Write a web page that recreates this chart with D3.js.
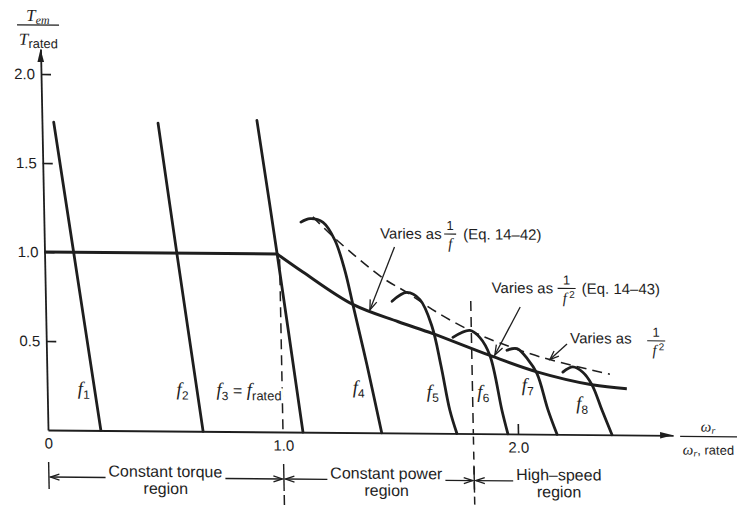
<!DOCTYPE html>
<html><head><meta charset="utf-8">
<script src="https://cdn.jsdelivr.net/npm/d3@7"></script>
<style>
html,body{margin:0;padding:0;background:#fff;}
svg{display:block;}
text{font-family:"Liberation Sans",Arial,sans-serif;fill:#1e1e1e;}
.it{font-family:"Liberation Serif","Times New Roman",serif;font-style:italic;}
</style></head><body>
<svg id="chart" width="737" height="511"></svg>
<script>
// ---------- data (speed / rated speed, torque / rated torque) ----------
const yTicks = [0.5, 1.0, 1.5, 2.0];
const yTickLabels = ["0.5", "1.0", "1.5", "2.0"];
const xTicks = [0, 1.0, 2.0];
const xTickLabels = ["0", "1.0", "2.0"];
const freqSubs = ["1", "2", "3", "4", "5", "6", "7", "8"];

const f1Curve = [[0.05,1.73],[0.125,0.99],[0.225,0]];
const f2Curve = [[0.494,1.73],[0.564,0.99],[0.66,0]];
const f3Curve = [[0.915,1.75],[0.99,1.0],[1.085,0]];
const f4Curve = [[1.094,1.18],[1.133,1.20],[1.188,1.18],[1.237,1.08],[1.277,0.91],[1.308,0.72],[1.363,0.38],[1.42,0]];
const f5Curve = [[1.475,0.74],[1.539,0.79],[1.594,0.75],[1.643,0.60],[1.678,0.38],[1.712,0.13],[1.74,0]];
const f6Curve = [[1.731,0.54],[1.804,0.58],[1.846,0.54],[1.887,0.44],[1.934,0.13],[1.957,0]];
const f7Curve = [[1.96,0.47],[2.003,0.48],[2.048,0.42],[2.086,0.34],[2.129,0.14],[2.166,0]];
const f8Curve = [[2.196,0.35],[2.239,0.38],[2.281,0.35],[2.319,0.28],[2.359,0.14],[2.40,0]];

const torqueFlat = [[0,1.0],[0.99,1.0]];
const torqueBoundary = [[0.99,1.0],[1.098,0.90],[1.308,0.72],[1.50,0.625],[1.646,0.56],[1.887,0.44],[2.086,0.35],[2.319,0.28],[2.467,0.26]];
const envelope = [[1.145,1.21],[1.246,1.08],[1.438,0.87],[1.539,0.79],[1.665,0.68],[1.804,0.58],[1.931,0.51],[2.112,0.43],[2.396,0.34]];

const regionBounds = [0, 1.0, 1.81];
const regionNames = [["Constant torque","region"],["Constant power","region"],["High\u2013speed","region"]];

// label anchors (data units)
const fLabelPos = [[0.13,0.20],[0.55,0.20],[0.72,0.20],[1.30,0.22],[1.615,0.20],[1.83,0.20],[2.02,0.24],[2.25,0.14]];

// ---------- layout ----------
const svg = d3.select("#chart");
const ink = "#1e1e1e";
const xMax = 2.66, yMax = 2.14;
const x = d3.scaleLinear().domain([0, xMax]).range([0, 235 * xMax]);
const y = d3.scaleLinear().domain([0, yMax]).range([0, -178 * yMax]);
// scanned figure is slightly skewed
const g = svg.append("g").attr("transform", `matrix(1,${2/235},${3.5/178},1,48,430)`);

const line = d3.line().x(d => x(d[0])).y(d => y(d[1])).curve(d3.curveCatmullRom.alpha(0.5));
const lin = d3.line().x(d => x(d[0])).y(d => y(d[1]));

function head(sel, x1, y1, x2, y2, len, half, filled, sw) {
  const a = Math.atan2(y2 - y1, x2 - x1);
  const bx = x2 - len * Math.cos(a), by = y2 - len * Math.sin(a);
  const px = -Math.sin(a) * half, py = Math.cos(a) * half;
  if (filled) {
    sel.append("path").attr("d", `M${x2},${y2}L${bx+px},${by+py}L${bx-px},${by-py}Z`).attr("fill", ink);
  } else {
    sel.append("path").attr("d", `M${bx+px},${by+py}L${x2},${y2}L${bx-px},${by-py}`)
      .attr("fill", "none").attr("stroke", ink).attr("stroke-width", sw || 1.3);
  }
}
function arrow(sel, x1, y1, x2, y2, len, half, sw) {
  sel.append("line").attr("x1", x1).attr("y1", y1).attr("x2", x2).attr("y2", y2)
    .attr("stroke", ink).attr("stroke-width", sw || 1.3);
  head(sel, x1, y1, x2, y2, len, half, false, sw);
}

// ---------- axes ----------
const yAxis = d3.axisLeft(y).tickValues(yTicks).tickFormat((d, i) => yTickLabels[i])
  .tickSizeInner(-10).tickSizeOuter(0).tickPadding(6);
const ya = g.append("g").call(yAxis);
ya.select(".domain").attr("stroke", ink).attr("stroke-width", 1.8);
ya.selectAll(".tick line").attr("stroke", ink).attr("stroke-width", 1.6);
ya.selectAll(".tick text").attr("font-family", "Liberation Sans, Arial, sans-serif").attr("font-size", 15).attr("fill", ink);
head(g, 0, y(2.0), 0, y(yMax), 13, 3.3, true);

const xAxis = d3.axisBottom(x).tickValues(xTicks).tickFormat((d, i) => xTickLabels[i])
  .tickSizeInner(-10).tickSizeOuter(0).tickPadding(8);
const xa = g.append("g").call(xAxis);
xa.select(".domain").attr("stroke", ink).attr("stroke-width", 1.8);
xa.selectAll(".tick line").attr("stroke", ink).attr("stroke-width", 1.6)
  .attr("opacity", d => d === 2.0 ? 1 : 0);
xa.selectAll(".tick text").attr("font-family", "Liberation Sans, Arial, sans-serif").attr("font-size", 15).attr("fill", ink);
head(g, x(2.4), 0, x(xMax), 0, 13, 3.3, true);

// axis titles
const yt = g.append("g").attr("transform", `translate(${x(0) - 2},${y(2.275)})`);
yt.append("line").attr("x1", -21).attr("x2", 21).attr("y1", 0).attr("y2", 0).attr("stroke", ink).attr("stroke-width", 1.2);
const yn = yt.append("text").attr("text-anchor", "middle").attr("y", -4);
yn.append("tspan").attr("class", "it").attr("font-size", 17).text("T");
yn.append("tspan").attr("class", "it").attr("font-size", 12).attr("dy", 3).text("em");
const yd = yt.append("text").attr("text-anchor", "middle").attr("y", 20);
yd.append("tspan").attr("class", "it").attr("font-size", 17).text("T");
yd.append("tspan").attr("font-size", 13).attr("dy", 3).text("rated");

const xt = g.append("g").attr("transform", `translate(${x(xMax) + 35},1)`);
xt.append("line").attr("x1", -28).attr("x2", 30).attr("y1", 0).attr("y2", 0).attr("stroke", ink).attr("stroke-width", 1.2);
const xn = xt.append("text").attr("text-anchor", "middle").attr("y", -5);
xn.append("tspan").attr("class", "it").attr("font-size", 15).text("\u03c9");
xn.append("tspan").attr("class", "it").attr("font-size", 10).attr("dy", 2).text("r");
const xd = xt.append("text").attr("text-anchor", "middle").attr("y", 18);
xd.append("tspan").attr("class", "it").attr("font-size", 15).text("\u03c9");
xd.append("tspan").attr("class", "it").attr("font-size", 10).attr("dy", 2).text("r");
xd.append("tspan").attr("font-size", 13).attr("dy", -2).text(", rated");

// ---------- dashed guides ----------
const dash = "10,6";
g.append("path").attr("d", lin([[regionBounds[1], 0.97], [regionBounds[1], 0]]))
  .attr("stroke", ink).attr("stroke-width", 1.5).attr("stroke-dasharray", dash).attr("fill", "none");
g.append("line").attr("x1", x(regionBounds[1])).attr("x2", x(regionBounds[1])).attr("y1", 63).attr("y2", 85)
  .attr("stroke", ink).attr("stroke-width", 1.5).attr("stroke-dasharray", dash);
g.append("path").attr("d", lin([[regionBounds[2], 0.745], [regionBounds[2], 0]]))
  .attr("stroke", ink).attr("stroke-width", 1.5).attr("stroke-dasharray", dash).attr("fill", "none");
g.append("line").attr("x1", x(regionBounds[2])).attr("x2", x(regionBounds[2])).attr("y1", 3).attr("y2", 85)
  .attr("stroke", ink).attr("stroke-width", 1.5).attr("stroke-dasharray", "8,7");

g.append("path").attr("d", line(envelope)).attr("fill", "none").attr("stroke", ink)
  .attr("stroke-width", 1.6).attr("stroke-dasharray", dash);

// ---------- torque curves ----------
g.append("path").attr("d", lin(torqueFlat)).attr("fill", "none").attr("stroke", ink).attr("stroke-width", 3);
g.append("path").attr("d", line(torqueBoundary)).attr("fill", "none").attr("stroke", ink).attr("stroke-width", 3);

const fCurves = [f1Curve, f2Curve, f3Curve, f4Curve, f5Curve, f6Curve, f7Curve, f8Curve];
g.selectAll("path.fc").data(fCurves).join("path").attr("class", "fc")
  .attr("d", d => line(d)).attr("fill", "none").attr("stroke", ink).attr("stroke-width", 2.8)
  .attr("stroke-linecap", "round");

// f labels
fLabelPos.forEach((p, i) => {
  const t = g.append("text").attr("x", x(p[0])).attr("y", y(p[1]));
  if (i === 2) t.attr("stroke", "#fff").attr("stroke-width", 5).attr("paint-order", "stroke");
  t.append("tspan").attr("class", "it").attr("font-size", 19).text("f");
  t.append("tspan").attr("font-size", 12).attr("dy", 4).text(freqSubs[i]);
  if (i === 2) {
    t.append("tspan").attr("font-size", 16).attr("dy", -4).text(" = ");
    t.append("tspan").attr("class", "it").attr("font-size", 19).text("f");
    t.append("tspan").attr("font-size", 13).attr("dy", 4).text("rated");
  }
});

// ---------- region brackets ----------
const tickTop = 32, tickBot = 59, arrV = 47;
const rg = g.append("g");
regionBounds.forEach(b => {
  rg.append("line").attr("x1", x(b)).attr("x2", x(b)).attr("y1", tickTop).attr("y2", tickBot)
    .attr("stroke", ink).attr("stroke-width", 1.4);
});
const regionCenters = [0.496, 1.436, 2.17];
regionNames.forEach((nm, i) => {
  const cx = x(regionCenters[i]);
  const t1 = rg.append("text").attr("x", cx).attr("y", 46).attr("text-anchor", "middle").attr("font-size", 16).text(nm[0]);
  rg.append("text").attr("x", cx).attr("y", 63).attr("text-anchor", "middle").attr("font-size", 16).text(nm[1]);
  const w = t1.node().getComputedTextLength();
  const lb = x(regionBounds[i]) + 1.5;
  arrow(rg, cx - w / 2 - 3, arrV, lb, arrV, 9, 3);
  if (i < 2) {
    const rb = x(regionBounds[i + 1]) - 1.5;
    arrow(rg, cx + w / 2 + 3, arrV, rb, arrV, 9, 3);
  }
});

// ---------- annotations ----------
function fraction(sel, cx, cy, sq, barW) {
  sel.append("text").attr("x", cx).attr("y", cy - 4).attr("text-anchor", "middle").attr("font-size", 13).text("1");
  sel.append("line").attr("x1", cx - barW / 2).attr("x2", cx + barW / 2).attr("y1", cy).attr("y2", cy)
    .attr("stroke", ink).attr("stroke-width", 1.1);
  sel.append("text").attr("class", "it").attr("x", sq ? cx - 2 : cx).attr("y", cy + 14.5)
    .attr("text-anchor", "middle").attr("font-size", 15).text("f");
  if (sq) sel.append("text").attr("x", cx + 2.5).attr("y", cy + 9.5).attr("font-size", 10).text("2");
}
const ann = g.append("g");
const annFont = 15;
// 1/f, Eq. 14-42
{
  const a = ann.append("g").attr("transform", `translate(${x(1.43)},${y(1.12)})`);
  a.append("text").attr("x", 0).attr("y", 5).attr("font-size", annFont).text("Varies as");
  fraction(a, 70, 0, false, 12);
  a.append("text").attr("x", 83).attr("y", 5).attr("font-size", annFont).text("(Eq. 14\u201342)");
  arrow(ann, x(1.49), y(1.045), x(1.38), y(0.69), 10, 3.5);
}
// 1/f^2, Eq. 14-43
{
  const a = ann.append("g").attr("transform", `translate(${x(1.90)},${y(0.82)})`);
  a.append("text").attr("x", 0).attr("y", 5).attr("font-size", annFont).text("Varies as");
  fraction(a, 75, 0, true, 18);
  a.append("text").attr("x", 90).attr("y", 5).attr("font-size", annFont).text("(Eq. 14\u201343)");
  arrow(ann, x(2.02), y(0.714), x(1.908), y(0.443), 10, 3.5);
}
// 1/f^2 envelope
{
  const a = ann.append("g").attr("transform", `translate(${x(2.23)},${y(0.53)})`);
  a.append("text").attr("x", 0).attr("y", 3).attr("font-size", annFont).text("Varies as");
  fraction(a, 86, 0, true, 18);
  arrow(ann, x(2.216), y(0.508), x(2.142), y(0.42), 9, 3.5);
}
</script>
</body></html>
